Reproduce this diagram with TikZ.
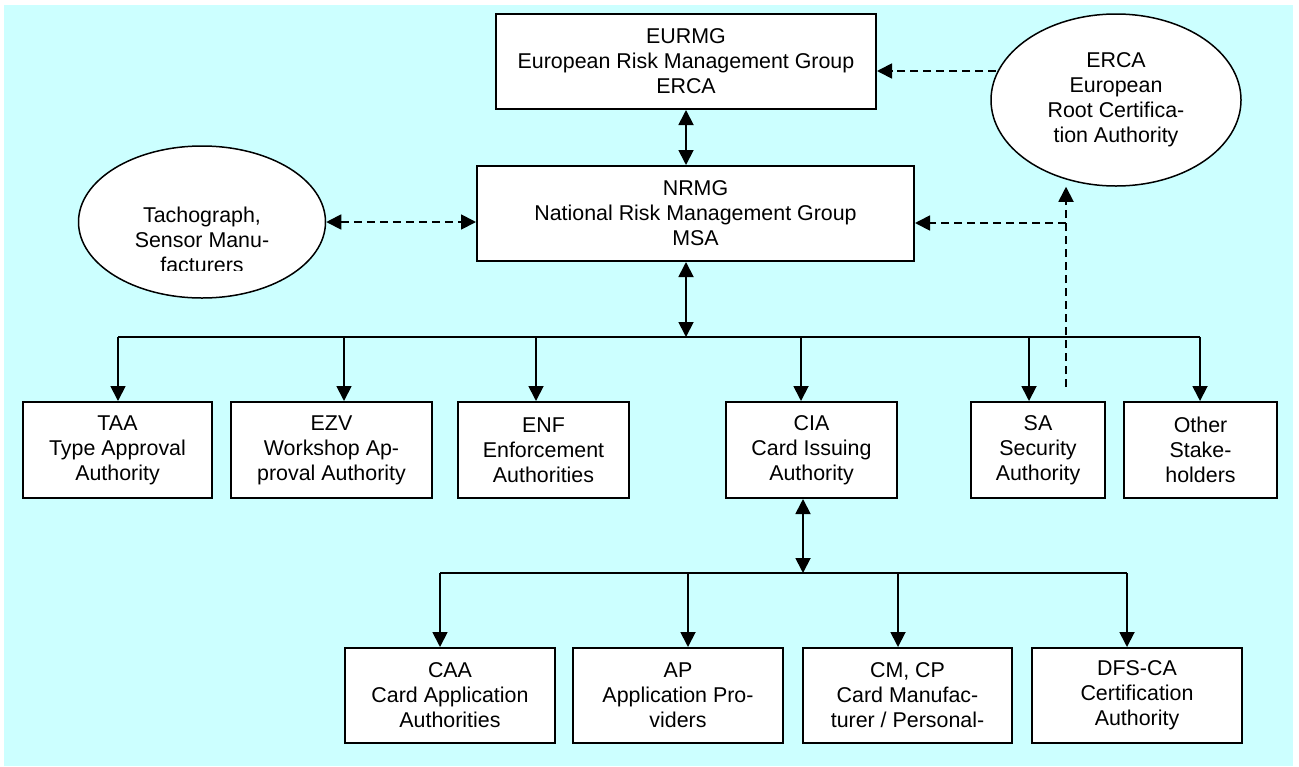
\documentclass[tikz,border=0pt]{standalone}
\usepackage{fontspec}
\setmainfont{Liberation Sans}
\usetikzlibrary{arrows.meta,shapes.geometric}

\definecolor{skyfill}{HTML}{CCFFFF}
\newcommand{\diagfont}{\fontsize{10.7}{12.5}\selectfont}

\begin{document}
\begin{tikzpicture}[x=0.5pt,y=-0.5pt,
    >={Triangle[length=7.5pt,width=7.5pt]},
    link/.style={draw,line width=0.9pt},
    dashlink/.style={draw,line width=0.9pt,dash pattern=on 4pt off 2.5pt}]

      \useasboundingbox (0,0) rectangle (1299,766);
      \fill[white] (0,0) rectangle (1299,766);
      \fill[skyfill] (4,5) rectangle (1293,766);

      % dashed links (drawn first, ovals sit on top)
      \coordinate (er) at (996,71);
      \coordinate (sa1) at (1066,387);
      \coordinate (sa2) at (1066,223);

      \begin{scope}[every node/.style={ellipse,draw,fill=white,line width=0.75pt,inner sep=0pt,align=center,font=\diagfont}]
        \node (erca)  at (1116,100) [minimum width=125pt,minimum height=86pt] {ERCA\\European\\Root Certifica-\\tion Authority};
        \node (tacho) at (202,222)  [minimum width=123.5pt,minimum height=76pt] {};
      \end{scope}

      \begin{scope}
        \clip (80,150) rectangle (330,270);
        \node[align=center,font=\diagfont] (tachotext) at (202,240) {Tachograph,\\Sensor Manu-\\facturers};
      \end{scope}

      \begin{scope}[every node/.style={rectangle,draw,fill=white,line width=1pt,inner sep=2pt,align=center,font=\diagfont}]
        \node (eurmg) at (686,61.5)   [minimum width=190pt,minimum height=47.5pt] {EURMG\\European Risk Management Group\\ERCA};
        \node (nrmg)  at (695.5,213.5) [minimum width=218.5pt,minimum height=47.5pt] {NRMG\\National Risk Management Group\\MSA};

        \node (taa)   at (117.5,450)  [minimum width=94.5pt,minimum height=48pt] {TAA\\Type Approval\\Authority};
        \node (ezv)   at (331.5,450)  [minimum width=100.5pt,minimum height=48pt] {EZV\\Workshop Ap-\\proval Authority};
        \node (enf)   at (543.5,450)  [minimum width=85.5pt,minimum height=48pt] {ENF\\Enforcement\\Authorities};
        \node (cia)   at (811.5,450)  [minimum width=85.5pt,minimum height=48pt] {CIA\\Card Issuing\\Authority};
        \node (sa)    at (1038,450)   [minimum width=67pt,minimum height=48pt] {SA\\Security\\Authority};
        \node (other) at (1200.5,450) [minimum width=76.5pt,minimum height=48pt] {Other\\Stake-\\holders};

        \node (caa)   at (450,695.5)    [minimum width=105pt,minimum height=47.5pt] {CAA\\Card Application\\Authorities};
        \node (ap)    at (678,695.5)    [minimum width=105pt,minimum height=47.5pt] {AP\\Application Pro-\\viders};
        \node (cm)    at (907.5,695.5)  [minimum width=104.5pt,minimum height=47.5pt] {CM, CP\\Card Manufac-\\turer / Personal-};
        \node (dfs)   at (1137,695.5)   [minimum width=105pt,minimum height=47.5pt] {DFS-CA\\Certification\\Authority};
      \end{scope}

      % first bus
      \coordinate (hub) at (686,337);
      \coordinate (b1) at (118,337);
      \coordinate (b2) at (344,337);
      \coordinate (b3) at (536,337);
      \coordinate (b4) at (801,337);
      \coordinate (b5) at (1029,337);
      \coordinate (b6) at (1200,337);

      % second bus
      \coordinate (hub2) at (803,573);
      \coordinate (c1) at (440,573);
      \coordinate (c2) at (688,573);
      \coordinate (c3) at (898,573);
      \coordinate (c4) at (1127,573);

      \begin{scope}[every edge/.style={link}]
        \path (eurmg.south) edge[<->] (eurmg.south |- nrmg.north);
        \path (nrmg.south -| hub) edge[<->] (hub);
        \path (b1) edge (b6);
        \path (b1) edge[->] (b1 |- taa.north);
        \path (b2) edge[->] (b2 |- ezv.north);
        \path (b3) edge[->] (b3 |- enf.north);
        \path (b4) edge[->] (b4 |- cia.north);
        \path (b5) edge[->] (b5 |- sa.north);
        \path (b6) edge[->] (b6 |- other.north);

        \path (cia.south -| hub2) edge[<->] (hub2);
        \path (c1) edge (c4);
        \path (c1) edge[->] (c1 |- caa.north);
        \path (c2) edge[->] (c2 |- ap.north);
        \path (c3) edge[->] (c3 |- cm.north);
        \path (c4) edge[->] (c4 |- dfs.north);
      \end{scope}

      \begin{scope}[every edge/.style={dashlink}]
        \path (er) edge[->] (er -| eurmg.east);
        \path (tacho.east) edge[<->] (tacho.east -| nrmg.west);
        \path (sa1) edge[->] (sa1 |- erca.south);
        \path (sa2) edge[->] (sa2 -| nrmg.east);
      \end{scope}

    \end{tikzpicture}
\end{document}
